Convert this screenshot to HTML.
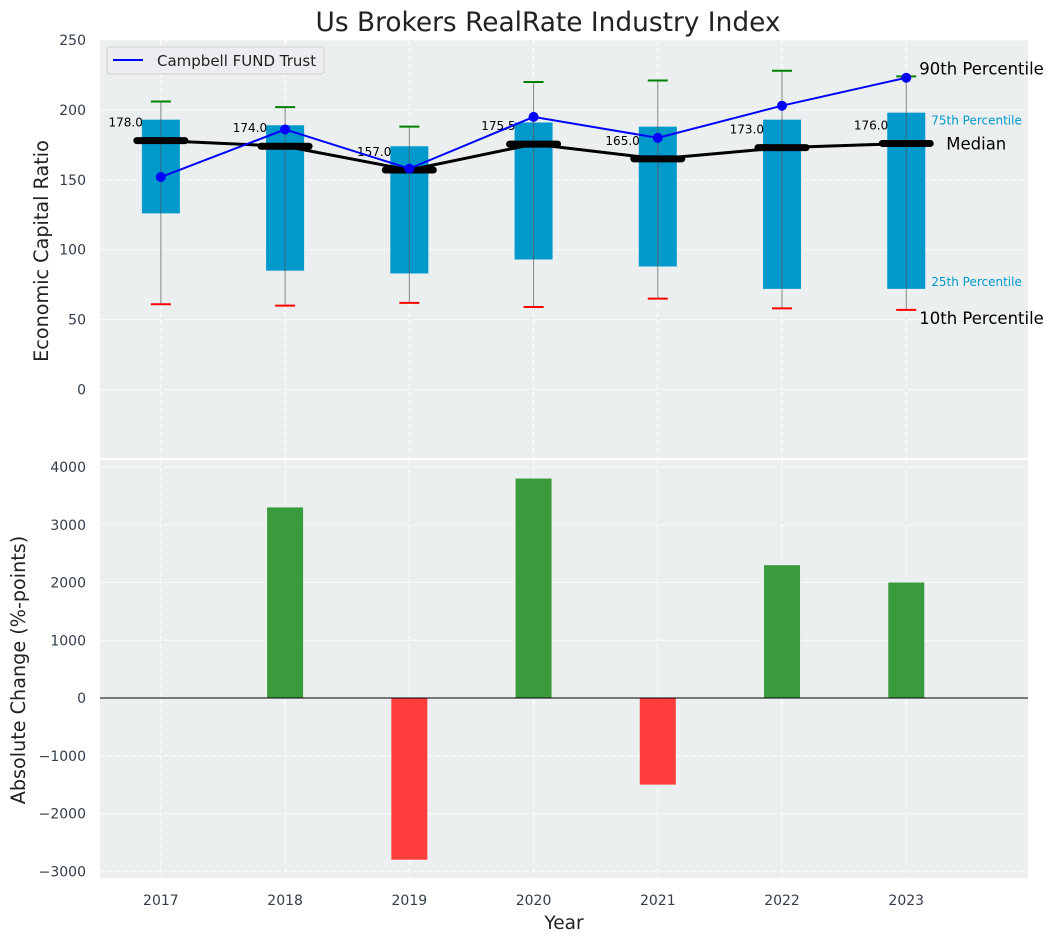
<!DOCTYPE html>
<html><head><meta charset="utf-8"><style>
body{margin:0;background:#fff;}
svg{display:block;font-family:"DejaVu Sans","Liberation Sans",sans-serif;}
</style></head><body>
<svg id="c" width="1054" height="942" viewBox="0 0 1054 942"></svg>
<script>
const years=[2017,2018,2019,2020,2021,2022,2023];
const p10=[61,60,62,59,65,58,57];
const p25=[126,85,83,93,88,72,72];
const p75=[193,189,174,191,188,193,198];
const p90=[206,202,188,220,221,228,224];
const medians=[178,174,157,175.5,165,173,176];
const fund=[152,186,158,195,180,203,223];
const changes=[0,3300,-2800,3800,-1500,2300,2000];
const topTicks=[0,50,100,150,200,250];
const botTicks=[-3000,-2000,-1000,0,1000,2000,3000,4000];

const NS="http://www.w3.org/2000/svg";
const svg=document.getElementById('c');
function el(t,a,p){const e=document.createElementNS(NS,t);for(const k in a)e.setAttribute(k,a[k]);(p||svg).appendChild(e);return e;}
const L=100,R=1028;
const X=v=>L+(v-2016.51)/(2023.98-2016.51)*(R-L);
const YT=v=>389.5-v*1.398;
const YB=v=>698-v*0.05775;

let e;
e=el('rect',{x:L,y:40,width:R-L,height:418,fill:'#ebeff0'});

e=el('rect',{x:L,y:460,width:R-L,height:418,fill:'#ebeff0'});


years.forEach(y=>{
 el('line',{x1:X(y),x2:X(y),y1:40,y2:458,stroke:'#fff','stroke-dasharray':'5,3','stroke-width':1});
 el('line',{x1:X(y),x2:X(y),y1:460,y2:878,stroke:'#fff','stroke-dasharray':'5,3','stroke-width':1});
 e=el('text',{x:X(y),y:905,'text-anchor':'middle','font-size':14,fill:'#333d4a'});e.textContent=y;
 
});
topTicks.forEach(t=>{
 el('line',{x1:L,x2:R,y1:YT(t),y2:YT(t),stroke:'#fff','stroke-dasharray':'5,3'});
 e=el('text',{x:86,y:YT(t)+5,'text-anchor':'end','font-size':14,fill:'#333d4a'});e.textContent=t;
 
});
botTicks.forEach(t=>{
 el('line',{x1:L,x2:R,y1:YB(t),y2:YB(t),stroke:'#fff','stroke-dasharray':'5,3'});
 e=el('text',{x:86,y:YB(t)+5,'text-anchor':'end','font-size':14,fill:'#333d4a'});e.textContent=t<0?'\u2212'+(-t):t;
 
});

years.forEach((y,i)=>{
 const x=X(y);
 e=el('rect',{x:x-19,y:YT(p75[i]),width:38,height:YT(p25[i])-YT(p75[i]),fill:'#0099cc'});
 
 e=el('line',{x1:x,x2:x,y1:YT(p90[i]),y2:YT(p10[i]),stroke:'#555','stroke-width':1,opacity:0.7});
 
 el('line',{x1:x-10,x2:x+10,y1:YT(p90[i]),y2:YT(p90[i]),stroke:'green','stroke-width':2});
 el('line',{x1:x-10,x2:x+10,y1:YT(p10[i]),y2:YT(p10[i]),stroke:'red','stroke-width':2});
});
e=el('polyline',{points:years.map((y,i)=>X(y)+','+YT(medians[i])).join(' '),fill:'none',stroke:'#000','stroke-width':3});

years.forEach((y,i)=>{
 const x=X(y),yy=YT(medians[i]);
 e=el('line',{x1:x-24,x2:x+24,y1:yy,y2:yy,stroke:'#000','stroke-width':7,'stroke-linecap':'round'});
 
 e=el('text',{x:x-18,y:yy-14,'text-anchor':'end','font-size':12,fill:'#000'});e.textContent=medians[i].toFixed(1);
 
});
e=el('polyline',{points:years.map((y,i)=>X(y)+','+YT(fund[i])).join(' '),fill:'none',stroke:'#0000ff','stroke-width':2});

years.forEach((y,i)=>{
 e=el('circle',{cx:X(y),cy:YT(fund[i]),r:5,fill:'#0000ff'});
 
});
const last=years.length-1,xl=X(years[last]);
[[p90[last],'90th Percentile',16.5,'#000',13,-2],[p75[last],'75th Percentile',12,'#0099cc',25,12],[p25[last],'25th Percentile',12,'#0099cc',25,-3],[p10[last],'10th Percentile',16.5,'#000',13,14]].forEach(a=>{
 e=el('text',{x:xl+a[4],y:YT(a[0])+a[5],'font-size':a[2],fill:a[3]});e.textContent=a[1];
 
});
e=el('text',{x:xl+40,y:YT(medians[last])+6,'font-size':16.5,fill:'#000'});e.textContent='Median';


years.forEach((y,i)=>{
 const v=changes[i];if(!v)return;
 e=el('rect',{x:X(y)-18,y:Math.min(YB(0),YB(v)),width:36,height:Math.abs(YB(v)-YB(0)),fill:v>0?'#3a9b3c':'#ff3d3d'});
 
});
el('line',{x1:L,x2:R,y1:YB(0),y2:YB(0),stroke:'#000','stroke-width':1});

e=el('g',{});
el('rect',{x:107,y:47,width:217,height:27,rx:3,fill:'#ebedf0',stroke:'#d0d0d0'},e);
el('line',{x1:113,x2:143,y1:60,y2:60,stroke:'#0000ff','stroke-width':2},e);
const lt=el('text',{x:157,y:66,'font-size':15,fill:'#222'},e);lt.textContent='Campbell FUND Trust';

e=el('text',{x:548,y:31,'text-anchor':'middle','font-size':26.4,fill:'#222'});e.textContent='Us Brokers RealRate Industry Index';

e=el('text',{x:564,y:929,'text-anchor':'middle','font-size':18.5,fill:'#222'});e.textContent='Year';

e=el('text',{x:0,y:0,'text-anchor':'middle','font-size':19.2,fill:'#222',transform:'translate(48,251) rotate(-90)'});e.textContent='Economic Capital Ratio';

e=el('text',{x:0,y:0,'text-anchor':'middle','font-size':19.2,fill:'#222',transform:'translate(25,670) rotate(-90)'});e.textContent='Absolute Change (%-points)';

</script>
</body></html>
